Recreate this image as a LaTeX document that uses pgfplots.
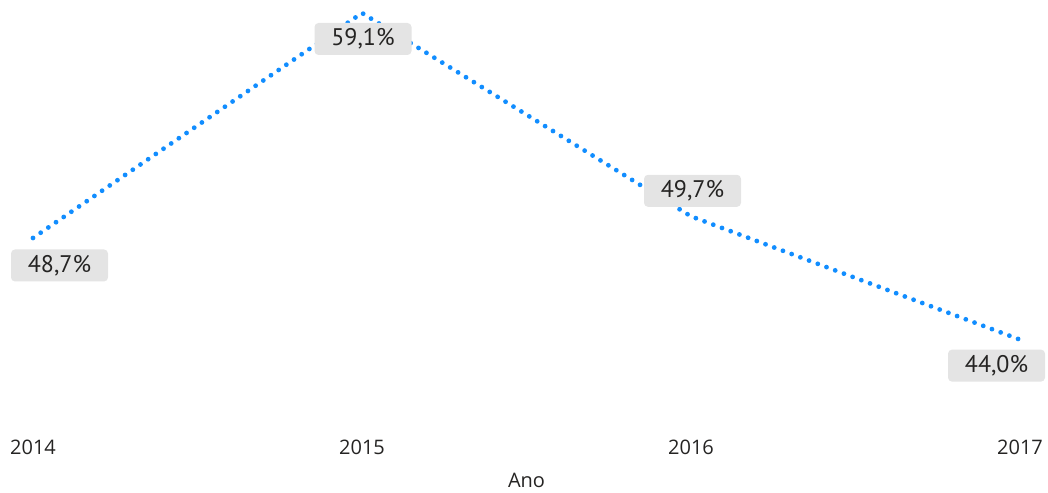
\documentclass[border=0pt]{standalone}
\usepackage{pgfplots}
\pgfplotsset{compat=1.18}
\usepackage{pgfplotstable}
\usepackage{fontspec}
\setmainfont{Open Sans}
\newfontfamily\labfont{PT Sans}
\definecolor{pbiblue}{RGB}{17,141,255}
\definecolor{boxgrey}{RGB}{228,228,228}
\definecolor{txt}{RGB}{37,36,35}
\pgfplotstableread{
year val dx dy
2014 48.7 26.5 -27.5
2015 59.1 1 -26
2016 49.7 1.5 25.5
2017 44.0 -23.5 -26
}\data
\begin{document}
\begin{tikzpicture}
\begin{axis}[
  at={(33pt,60pt)}, anchor=south west,
  scale only axis, width=987pt, height=419pt,
  xmin=2014, xmax=2017, ymin=39.73, ymax=59.1,
  hide y axis, axis x line*=bottom, x axis line style={draw=none},
  major tick length=0pt, clip=false,
  xtick={2014,2015,2016,2017},
  /pgf/number format/assume math mode=true,
  xticklabel={\pgfmathprintnumber[1000 sep={}]{\tick}},
  xticklabel style={anchor=base, yshift=-22.5pt, inner sep=0pt, font=\fontsize{20}{24}\selectfont, text=txt},
  xlabel={Ano},
  xlabel style={at={(axis description cs:0.5,0)}, anchor=base, yshift=-55pt, inner sep=0pt, font=\fontsize{20}{24}\selectfont, text=txt},
]
\addplot[draw=none, mark=none,
  point meta=y,
  visualization depends on={\thisrow{dx} \as \dx},
  visualization depends on={\thisrow{dy} \as \dy},
  nodes near coords={\pgfmathprintnumber[fixed,fixed zerofill,precision=1,use comma]{\pgfplotspointmeta}\%},
  every node near coord/.append style={anchor=center, xshift=\dx pt, yshift=\dy pt,
    fill=boxgrey, rounded corners=4pt, minimum width=97pt, minimum height=32pt, inner sep=0pt,
    font=\labfont\fontsize{24}{28}\selectfont, text=txt},
] table[x=year, y=val] {\data};
\addplot[pbiblue, line width=4.8pt, line cap=round, dash pattern=on 0pt off 9.3pt, mark=none]
  table[x=year, y=val] {\data};
\end{axis}
\pgfresetboundingbox
\useasboundingbox (0,0) rectangle (1048pt,492pt);
\end{tikzpicture}
\end{document}
